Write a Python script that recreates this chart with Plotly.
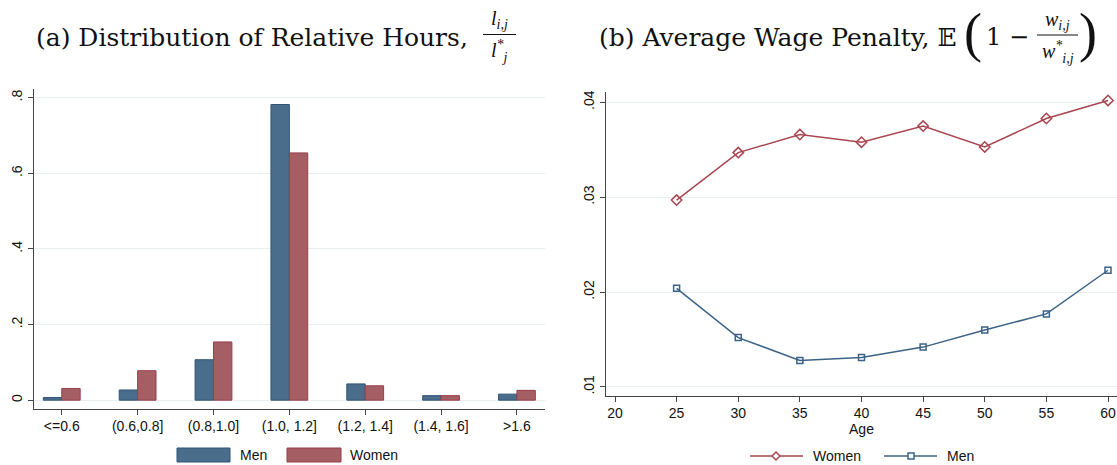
import plotly.graph_objects as go

W, H = 1117, 465

# ---------------- data ----------------
hour_bins = ["<=0.6", "(0.6,0.8]", "(0.8,1.0]", "(1.0, 1.2]", "(1.2, 1.4]", "(1.4, 1.6]", ">1.6"]
men_share = [0.007, 0.027, 0.107, 0.782, 0.043, 0.012, 0.016]
women_share = [0.031, 0.078, 0.154, 0.654, 0.038, 0.012, 0.026]

ages = [25, 30, 35, 40, 45, 50, 55, 60]
women_penalty = [0.0297, 0.0347, 0.0366, 0.0358, 0.0375, 0.0353, 0.0383, 0.0402]
men_penalty = [0.0204, 0.0152, 0.0128, 0.0131, 0.0142, 0.0160, 0.0177, 0.0223]

left_yticks = [0, 0.2, 0.4, 0.6, 0.8]
left_ytext = ["0", ".2", ".4", ".6", ".8"]
right_yticks = [0.01, 0.02, 0.03, 0.04]
right_ytext = [".01", ".02", ".03", ".04"]
right_xticks = [20, 25, 30, 35, 40, 45, 50, 55, 60]

# ---------------- style ----------------
MEN_FILL, MEN_EDGE = "#4a6d8b", "#2f5577"
WOM_FILL, WOM_EDGE = "#a65e65", "#983f49"
MEN_LINE, WOM_LINE = "#3c6387", "#a8454f"
GRID = "#e8eff1"
AXIS = "#444444"
SANS = "Liberation Sans, Arial, sans-serif"
SERIF = "DejaVu Serif, Liberation Serif, serif"
MSERIF = "Liberation Serif, DejaVu Serif, serif"


def px(x):
    return x / W


def py(y):
    return 1 - y / H


fig = go.Figure()

fig.add_trace(go.Bar(x=hour_bins, y=men_share, name="Men", xaxis="x", yaxis="y",
                     marker=dict(color=MEN_FILL, line=dict(color=MEN_EDGE, width=1)),
                     showlegend=False))
fig.add_trace(go.Bar(x=hour_bins, y=women_share, name="Women", xaxis="x", yaxis="y",
                     marker=dict(color=WOM_FILL, line=dict(color=WOM_EDGE, width=1)),
                     showlegend=False))

fig.add_trace(go.Scatter(x=ages, y=women_penalty, name="Women", xaxis="x2", yaxis="y2",
                         mode="lines+markers", cliponaxis=False,
                         line=dict(color=WOM_LINE, width=1.5),
                         marker=dict(symbol="diamond-open", size=8, color=WOM_LINE, line=dict(width=1.5)),
                         showlegend=False))
fig.add_trace(go.Scatter(x=ages, y=men_penalty, name="Men", xaxis="x2", yaxis="y2",
                         mode="lines+markers", cliponaxis=False,
                         line=dict(color=MEN_LINE, width=1.5),
                         marker=dict(symbol="square-open", size=6, color=MEN_LINE, line=dict(width=1.5)),
                         showlegend=False))

axis_common = dict(showline=True, linecolor=AXIS, linewidth=1, ticks="outside", ticklen=5,
                   tickcolor=AXIS, tickwidth=1, tickfont=dict(family=SANS, size=14, color="#111"),
                   zeroline=False)

fig.update_layout(
    width=W, height=H, margin=dict(l=0, r=0, t=0, b=0),
    paper_bgcolor="white", plot_bgcolor="white",
    barmode="group", bargap=0.515, bargroupgap=0,
    showlegend=False,
    xaxis=dict(domain=[px(33.7), px(545)], anchor="y", type="category",
               range=[-0.37, 6.37], showgrid=False, **axis_common),
    yaxis=dict(domain=[py(408.5), py(89)], anchor="x", range=[-0.022, 0.823],
               tickvals=left_yticks, ticktext=left_ytext, tickangle=-90,
               showgrid=True, gridcolor=GRID, gridwidth=1, **axis_common),
    xaxis2=dict(domain=[px(606), 1.0], anchor="y2", range=[19.27, 60.73],
                tickvals=right_xticks, showgrid=False,
                title=dict(text="Age", font=dict(family=SANS, size=14, color="#111"), standoff=0),
                **axis_common),
    yaxis2=dict(domain=[py(395.5), py(91.7)], anchor="x2", range=[0.0091, 0.04112],
                tickvals=right_yticks, ticktext=right_ytext, tickangle=-90,
                showgrid=True, gridcolor=GRID, gridwidth=1, **axis_common),
)

ann = []
shapes = []

# ---- titles ----
TF = 25
FF = 20
ann.append(dict(text="(a) Distribution of Relative Hours,", x=px(35), y=py(37), xanchor="left",
                yanchor="middle", font=dict(family=SERIF, size=TF, color="#111")))
ann.append(dict(text="<i>l<sub>i,j</sub></i>", x=px(499.5), y=py(33.5), xanchor="center", yanchor="bottom",
                font=dict(family=MSERIF, size=FF, color="#111")))
shapes.append(dict(type="line", xref="paper", yref="paper", x0=px(483), x1=px(516), y0=py(34.5), y1=py(34.5),
                   line=dict(color="#111", width=1)))
ann.append(dict(text="<i>l<sup>*</sup><sub>j</sub></i>", x=px(499.5), y=py(36), xanchor="center", yanchor="top",
                font=dict(family=MSERIF, size=FF, color="#111")))

ann.append(dict(text="(b) Average Wage Penalty, 𝔼", x=px(598), y=py(37), xanchor="left",
                yanchor="middle", font=dict(family=SERIF, size=TF, color="#111")))
ann.append(dict(text="(", x=px(973), y=py(33), xanchor="center", yanchor="middle",
                font=dict(family=MSERIF, size=54, color="#111")))
ann.append(dict(text="1 −", x=px(985), y=py(37), xanchor="left", yanchor="middle",
                font=dict(family=SERIF, size=24, color="#111")))
ann.append(dict(text="<i>w<sub>i,j</sub></i>", x=px(1057.5), y=py(34), xanchor="center", yanchor="bottom",
                font=dict(family=MSERIF, size=FF, color="#111")))
shapes.append(dict(type="line", xref="paper", yref="paper", x0=px(1037), x1=px(1078), y0=py(35), y1=py(35),
                   line=dict(color="#111", width=1)))
ann.append(dict(text="<i>w<sup>*</sup><sub>i,j</sub></i>", x=px(1057.5), y=py(36.5), xanchor="center", yanchor="top",
                font=dict(family=MSERIF, size=FF, color="#111")))
ann.append(dict(text=")", x=px(1088), y=py(33), xanchor="center", yanchor="middle",
                font=dict(family=MSERIF, size=54, color="#111")))

# ---- legend (left panel) ----
LEG_Y = 455
shapes.append(dict(type="rect", xref="paper", yref="paper", x0=px(177), x1=px(230), y0=py(462), y1=py(448),
                   fillcolor=MEN_FILL, line=dict(color=MEN_EDGE, width=1)))
ann.append(dict(text="Men", x=px(239), y=py(LEG_Y), xanchor="left", yanchor="middle",
                font=dict(family=SANS, size=14, color="#111")))
shapes.append(dict(type="rect", xref="paper", yref="paper", x0=px(287), x1=px(341), y0=py(462), y1=py(448),
                   fillcolor=WOM_FILL, line=dict(color=WOM_EDGE, width=1)))
ann.append(dict(text="Women", x=px(349), y=py(LEG_Y), xanchor="left", yanchor="middle",
                font=dict(family=SANS, size=14, color="#111")))

# ---- legend (right panel) ----
RY = 456
shapes.append(dict(type="line", xref="paper", yref="paper", x0=px(750), x1=px(803), y0=py(RY), y1=py(RY),
                   line=dict(color=WOM_LINE, width=1.5)))
d = 4
shapes.append(dict(type="path", xref="paper", yref="paper",
                   path=f"M {px(776)},{py(RY-d)} L {px(776+d)},{py(RY)} L {px(776)},{py(RY+d)} L {px(776-d)},{py(RY)} Z",
                   fillcolor="white", line=dict(color=WOM_LINE, width=1.5)))
ann.append(dict(text="Women", x=px(812), y=py(RY), xanchor="left", yanchor="middle",
                font=dict(family=SANS, size=14, color="#111")))
shapes.append(dict(type="line", xref="paper", yref="paper", x0=px(884), x1=px(937), y0=py(RY), y1=py(RY),
                   line=dict(color=MEN_LINE, width=1.5)))
s = 3
shapes.append(dict(type="rect", xref="paper", yref="paper", x0=px(911-s), x1=px(911+s), y0=py(RY+s), y1=py(RY-s),
                   fillcolor="white", line=dict(color=MEN_LINE, width=1.5)))
ann.append(dict(text="Men", x=px(946), y=py(RY), xanchor="left", yanchor="middle",
                font=dict(family=SANS, size=14, color="#111")))

for a in ann:
    a.update(xref="paper", yref="paper", showarrow=False, borderpad=0)
fig.update_layout(annotations=ann, shapes=shapes)

fig.write_html("out.html")
